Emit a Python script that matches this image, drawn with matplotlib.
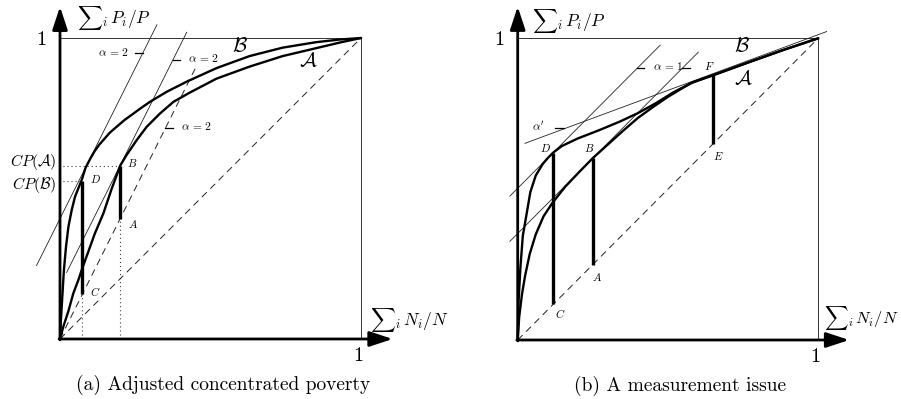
import matplotlib
matplotlib.use('Agg')
import matplotlib.pyplot as plt

plt.rcParams['mathtext.fontset'] = 'cm'
plt.rcParams['font.family'] = ['cmr10', 'DejaVu Serif']
plt.rcParams['axes.formatter.use_mathtext'] = True
plt.rcParams['lines.scale_dashes'] = False

# ---------------- data: panel (a) ----------------
a_B_x = [0, 0.003, 0.0077, 0.013, 0.02, 0.028, 0.039, 0.05, 0.063, 0.072, 0.085, 0.1,
         0.115, 0.13, 0.144, 0.165, 0.188, 0.215, 0.244, 0.27, 0.299, 0.354, 0.421,
         0.52, 0.63, 0.74, 0.85, 0.93, 1.0]
a_B_y = [0, 0.063, 0.141, 0.229, 0.307, 0.373, 0.429, 0.473, 0.506, 0.528, 0.569, 0.598,
         0.624, 0.645, 0.661, 0.685, 0.705, 0.728, 0.749, 0.768, 0.788, 0.821, 0.855,
         0.9, 0.94, 0.968, 0.986, 0.995, 1.0]
a_A_x = [0, 0.011, 0.028, 0.044, 0.061, 0.074, 0.094, 0.116, 0.144, 0.172, 0.2, 0.221,
         0.255, 0.288, 0.332, 0.377, 0.43, 0.52, 0.63, 0.74, 0.85, 0.93, 1.0]
a_A_y = [0, 0.041, 0.093, 0.151, 0.196, 0.235, 0.29, 0.351, 0.417, 0.5, 0.576, 0.611,
         0.661, 0.705, 0.749, 0.788, 0.818, 0.865, 0.905, 0.94, 0.966, 0.985, 1.0]
# tangent / reference lines: slope, intercept, x start, x end, dashed?
a_lines_slope = [2.0, 2.0, 2.0]
a_lines_icpt = [0.40, 0.177, 0.0]
a_lines_x0 = [-0.078, 0.022, 0.0]
a_lines_x1 = [0.322, 0.421, 0.45]
a_lines_dashed = [False, False, True]
# vertical thick bars: x, top, bottom
a_bar_x = [0.072, 0.2]
a_bar_top = [0.526, 0.576]
a_bar_bot = [0.148, 0.40]
a_cp_levels = [0.576, 0.526]
a_cp_labels = [r'$CP(\mathcal{A})$', r'$CP(\mathcal{B})$']
a_point_labels = ['B', 'D', 'A', 'C']
a_alpha_labels = [r'$\alpha\,=\,2$', r'$\alpha\,=\,2$', r'$\alpha\,=\,2$']

# ---------------- data: panel (b) ----------------
b_B_x = [0, 0.003, 0.009, 0.017, 0.03, 0.042, 0.06, 0.083, 0.1, 0.118, 0.147, 0.2, 0.27,
         0.34, 0.4, 0.46, 0.52, 0.58, 0.651, 0.77, 0.88, 1.0]
b_B_y = [0, 0.13, 0.24, 0.345, 0.42, 0.49, 0.545, 0.583, 0.603, 0.621, 0.643, 0.668, 0.695,
         0.724, 0.752, 0.785, 0.822, 0.853, 0.878, 0.921, 0.96, 1.0]
b_A_x = [0, 0.005, 0.014, 0.025, 0.04, 0.06, 0.086, 0.116, 0.158, 0.203, 0.249, 0.3, 0.35,
         0.4, 0.45, 0.5, 0.55, 0.58, 0.651, 0.77, 0.88, 1.0]
b_A_y = [0, 0.077, 0.15, 0.215, 0.285, 0.35, 0.41, 0.455, 0.508, 0.555, 0.602, 0.648, 0.693,
         0.736, 0.772, 0.806, 0.836, 0.853, 0.878, 0.921, 0.96, 1.0]
b_lines_slope = [1.0, 1.0, 0.369]
b_lines_icpt = [0.503, 0.353, 0.643]
b_lines_x0 = [-0.026, -0.026, 0.024]
b_lines_x1 = [0.474, 0.601, 1.028]
b_bar_x = [0.118, 0.249, 0.651]
b_bar_top = [0.621, 0.602, 0.878]
b_bar_bot = [0.118, 0.249, 0.651]
b_point_labels = ['D', 'B', 'F', 'C', 'A', 'E']

captions = ['(a) Adjusted concentrated poverty', '(b) A measurement issue']
ylab = r'${\sum}_i\, P_i/P$'
xlab = r'${\sum}_i\, N_i/N$'

# ---------------- layout ----------------
W, H = 901, 399
fig = plt.figure(figsize=(W / 100, H / 100), dpi=100)


def make_axes(pl, pr, ox, oy, ux, uy):
    ax = fig.add_axes([pl / W, 0, (pr - pl) / W, 1])
    ax.set_xlim((pl - ox) / ux, (pr - ox) / ux)
    ax.set_ylim((oy - H) / uy, oy / uy)
    ax.axis('off')
    return ax


axA = make_axes(0, 450, 60, 339, 301, 301)
axB = make_axes(450, 901, 517.7, 340, 300.5, 301.7)

THIN = dict(color='#222222', lw=0.6)
DASH = dict(color='#222222', lw=0.7, dashes=(5, 3.5))
DOT = dict(color='#222222', lw=0.8, dashes=(0.7, 2.2))
THICK = dict(color='black', lw=1.7, solid_capstyle='round')
BAR = dict(color='black', lw=2.4, solid_capstyle='butt')
MS = 8  # math small labels
AS = 8.3  # alpha labels
CAL = 15


def common(ax, ytip, xtip, cap, capx):
    # frame
    ax.plot([0, 1], [1, 1], color='#333333', lw=0.7)
    ax.plot([1, 1], [0, 1], color='#333333', lw=0.7)
    # diagonal
    ax.plot([0, 1], [0, 1], **DASH)
    # axes with arrows
    ax.annotate('', xy=(0, ytip), xytext=(0, -0.003),
                arrowprops=dict(arrowstyle='-|>,head_length=1.0,head_width=0.33',
                                lw=2.0, color='black', shrinkA=0, shrinkB=0,
                                mutation_scale=14))
    ax.annotate('', xy=(xtip, 0), xytext=(-0.003, 0),
                arrowprops=dict(arrowstyle='-|>,head_length=1.0,head_width=0.33',
                                lw=2.0, color='black', shrinkA=0, shrinkB=0,
                                mutation_scale=14))
    ax.text(-0.061, 0.993, '1', fontsize=14.5, ha='center', va='center')
    ax.text(0.99, -0.058, '1', fontsize=14.5, ha='center', va='center')
    ax.text(cap, -0.153, capx, fontsize=14, ha='center', va='center')


# ---------------- panel (a) ----------------
ax = axA
common(ax, 1.104, 1.105, 0.543, captions[0])
for m, b, x0, x1, d in zip(a_lines_slope, a_lines_icpt, a_lines_x0, a_lines_x1, a_lines_dashed):
    ax.plot([x0, x1], [m * x0 + b, m * x1 + b], **(DASH if d else THIN))
ax.plot(a_B_x, a_B_y, **THICK)
ax.plot(a_A_x, a_A_y, **THICK)
for x, t, bt in zip(a_bar_x, a_bar_top, a_bar_bot):
    ax.plot([x, x], [bt, t], **BAR)
    ax.plot([x, x], [0, bt], **DOT)
for lev, x in zip(a_cp_levels, [a_bar_x[1], a_bar_x[0]]):
    ax.plot([0.01, x], [lev, lev], **DOT)
ax.text(-0.012, a_cp_levels[0] + 0.012, a_cp_labels[0], fontsize=11.3, ha='right', va='center')
ax.text(-0.012, a_cp_levels[1] - 0.013, a_cp_labels[1], fontsize=11.3, ha='right', va='center')
for lab, (x, y) in zip(a_point_labels, [(0.241, 0.584), (0.119, 0.532), (0.241, 0.382), (0.116, 0.159)]):
    ax.text(x, y, '$' + lab + '$', fontsize=MS, ha='center', va='center')
# alpha labels with small ticks
for lab, (tx, ty), (k0, k1, ky) in zip(a_alpha_labels,
                                      [(0.177, 0.955), (0.478, 0.933), (0.454, 0.708)],
                                      [(0.25, 0.2745, 0.949), (0.375, 0.40, 0.927), (0.35, 0.375, 0.70)]):
    ax.text(tx, ty, lab, fontsize=AS, ha='center', va='center')
    ax.plot([k0, k1], [ky, ky], color='black', lw=0.9)
ax.text(0.598, 0.971, r'$\mathcal{B}$', fontsize=CAL, ha='center', va='center')
ax.text(0.825, 0.921, r'$\mathcal{A}$', fontsize=CAL, ha='center', va='center')
ax.text(0.055, 1.065, ylab, fontsize=12.5, ha='left', va='center')
ax.text(1.03, 0.063, xlab, fontsize=12.5, ha='left', va='center')

# ---------------- panel (b) ----------------
ax = axB
common(ax, 1.105, 1.103, 0.54, captions[1])
for m, b, x0, x1 in zip(b_lines_slope, b_lines_icpt, b_lines_x0, b_lines_x1):
    ax.plot([x0, x1], [m * x0 + b, m * x1 + b], **THIN)
ax.plot(b_B_x, b_B_y, **THICK)
ax.plot(b_A_x, b_A_y, **THICK)
for x, t, bt in zip(b_bar_x, b_bar_top, b_bar_bot):
    ax.plot([x, x], [bt, t], **BAR)
for lab, (x, y) in zip(b_point_labels, [(0.091, 0.635), (0.238, 0.635), (0.638, 0.909),
                                        (0.141, 0.088), (0.263, 0.21), (0.666, 0.611)]):
    ax.text(x, y, '$' + lab + '$', fontsize=MS, ha='center', va='center')
ax.text(0.501, 0.909, r'$\alpha\,=\,1$', fontsize=AS, ha='center', va='center')
ax.plot([0.397, 0.42], [0.9, 0.9], color='black', lw=0.9)
ax.plot([0.547, 0.572], [0.9, 0.9], color='black', lw=0.9)
ax.text(0.069, 0.709, r"$\alpha'$", fontsize=AS, ha='center', va='center')
ax.plot([0.125, 0.155], [0.702, 0.702], color='black', lw=0.9)
ax.text(0.745, 0.972, r'$\mathcal{B}$', fontsize=CAL, ha='center', va='center')
ax.text(0.751, 0.864, r'$\mathcal{A}$', fontsize=CAL, ha='center', va='center')
ax.text(0.047, 1.058, ylab, fontsize=12.5, ha='left', va='center')
ax.text(1.02, 0.072, xlab, fontsize=11.8, ha='left', va='center')

fig.savefig('out.png', dpi=100)
